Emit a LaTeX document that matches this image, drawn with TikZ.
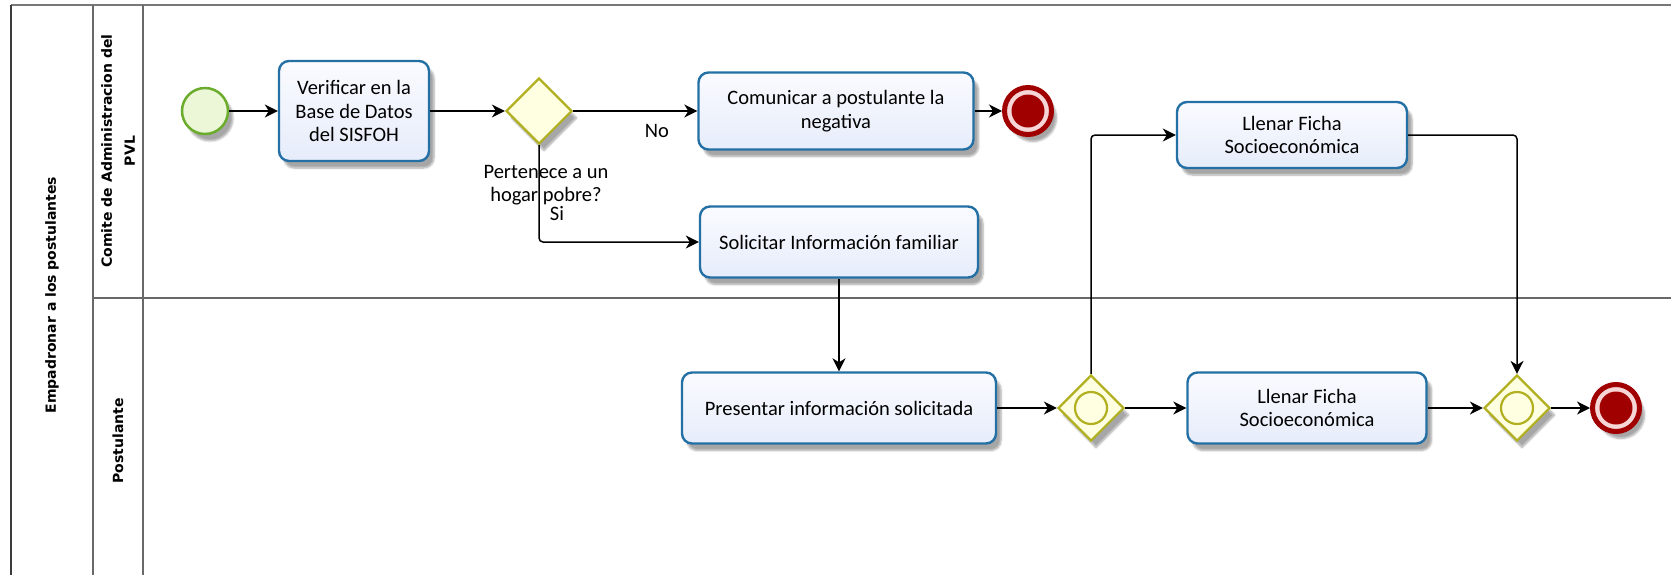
\documentclass[tikz,border=0pt]{standalone}
\usepackage{fontspec}
\setmainfont{Carlito}
\newfontfamily\lanefont{DejaVu Sans}
\usetikzlibrary{shapes.geometric,arrows.meta,shadows.blur}
\definecolor{taskblue}{RGB}{36,112,165}
\definecolor{taskfilltop}{RGB}{250,251,255}
\definecolor{taskfillbot}{RGB}{230,236,250}
\definecolor{gwolive}{RGB}{176,176,32}
\definecolor{gwfill}{RGB}{255,255,226}
\definecolor{endred}{RGB}{160,0,0}
\definecolor{endpink}{RGB}{246,214,214}
\definecolor{startgreen}{RGB}{108,172,44}
\definecolor{startfill}{RGB}{236,247,216}
\definecolor{laneline}{RGB}{105,105,105}
\begin{document}
\begin{tikzpicture}[x=1pt,y=-1pt,
  softshadow/.style={blur shadow={shadow xshift=5pt,shadow yshift=-7pt,shadow blur steps=6,shadow opacity=35}},
  task/.style={draw=taskblue,line width=2.4pt,rounded corners=10pt,inner sep=2pt,align=center,
    top color=taskfilltop,bottom color=taskfillbot,font=\fontsize{20.5}{23.5}\selectfont,softshadow},
  gw/.style={diamond,draw=gwolive,line width=2.2pt,fill=gwfill,minimum width=66pt,minimum height=66pt,inner sep=0pt,softshadow},
  gwmark/.style={circle,draw=gwolive,line width=2.2pt,minimum size=32pt,inner sep=0pt},
  startev/.style={circle,draw=startgreen,line width=2.5pt,fill=startfill,minimum size=46pt,inner sep=0pt,softshadow},
  endev/.style={circle,draw=endred,line width=5pt,fill=endpink,minimum size=47pt,inner sep=0pt,softshadow},
  enddot/.style={circle,fill=endred,minimum size=33pt,inner sep=0pt},
  flow/.style={draw=black,line width=1.5pt,-{Stealth[length=13pt,width=13pt,inset=4pt]}},
  lbl/.style={font=\fontsize{20.5}{23.5}\selectfont,align=center,inner sep=0pt},
  lanetxt/.style={font=\lanefont\bfseries\fontsize{14}{23}\selectfont,rotate=90,align=center,inner sep=0pt},
  lane/.style={draw=laneline,line width=1.6pt}
]
\useasboundingbox (0,0) rectangle (1671,574);
% pool and lanes
\draw[lane,draw={rgb,255:red,120;green,120;blue,120},line width=2.2pt] (11,5) -- (1680,5);
\draw[lane,draw={rgb,255:red,60;green,60;blue,60},line width=2pt] (11,5) -- (11,590);
\draw[lane] (93,5) -- (93,590);
\draw[lane] (143,5) -- (143,590);
\draw[lane] (93,298) -- (1680,298);
\node[lanetxt] (pool) at (52,295) {Empadronar a los postulantes};
\node[lanetxt] (lane1) at (118,151) {Comite de Administracion del\\PVL};
\node[lanetxt] (lane2) at (118,441) {Postulante};
% top lane
\node[startev] (s) at (205,111) {};
\node[task,minimum width=150pt,minimum height=100pt] (t1) at (354,111) {Verificar en la\\Base de Datos\\del SISFOH};
\node[gw] (g1) at (539,111) {};
\node[task,minimum width=275pt,minimum height=77pt] (t2) at (836,111) {Comunicar a postulante la\\negativa};
\node[endev] (e1) at (1028,111) {};
\node[enddot] (e1c) at (1028,111) {};
\node[task,minimum width=278pt,minimum height=71pt] (t3) at (839,242) {Solicitar Información familiar};
\node[task,minimum width=230pt,minimum height=66pt] (t5) at (1292,135) {Llenar Ficha\\Socioeconómica};
% bottom lane
\node[task,minimum width=314pt,minimum height=71pt] (t4) at (839,408) {Presentar información solicitada};
\node[gw] (g2) at (1091,408) {};
\node[gwmark] (g2c) at (1091,408) {};
\node[task,minimum width=239pt,minimum height=71pt] (t6) at (1307,408) {Llenar Ficha\\Socioeconómica};
\node[gw] (g3) at (1517,408) {};
\node[gwmark] (g3c) at (1517,408) {};
\node[endev] (e2) at (1616,408) {};
\node[enddot] (e2c) at (1616,408) {};
% labels
\node[lbl] (lq) at (546,185) {Pertenece a un\\hogar pobre?};
\node[lbl] (lno) at (657,131) {No};
\node[lbl] (lsi) at (557,214) {Si};
% flows
\draw[flow] (s) -- (t1);
\draw[flow] (t1) -- (g1);
\draw[flow] (g1) -- (t2);
\draw[flow] (t2) -- (e1);
\draw[flow,rounded corners=4pt] (g1.south) |- (t3.west);
\draw[flow] (t3) -- (t4);
\draw[flow] (t4) -- (g2);
\draw[flow,rounded corners=4pt] (g2.north) |- (t5.west);
\draw[flow,rounded corners=4pt] (t5.east) -| (g3.north);
\draw[flow] (g2) -- (t6);
\draw[flow] (t6) -- (g3);
\draw[flow] (g3) -- (e2);
\end{tikzpicture}
\end{document}
